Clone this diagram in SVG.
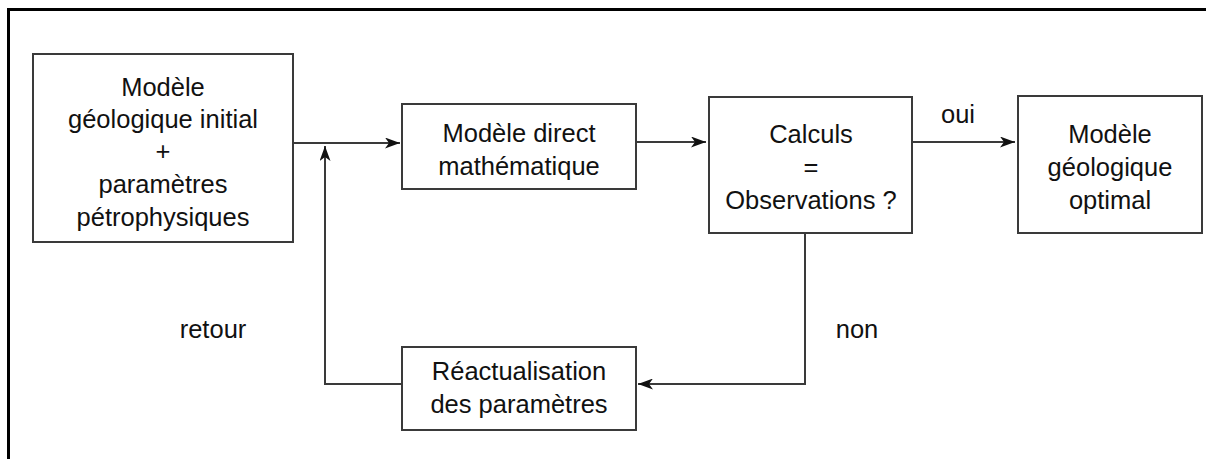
<svg xmlns="http://www.w3.org/2000/svg" width="1206" height="459" viewBox="0 0 1206 459">
  <style>
    .box { fill: #ffffff; stroke: #3a3a3a; stroke-width: 2; }
    .lbl { font-family: "Liberation Sans", Arial, Helvetica, sans-serif; font-size: 25.5px; fill: #111111; text-anchor: middle; }
    .wire { fill: none; stroke: #3a3a3a; stroke-width: 2; }
    .frame { fill: none; stroke: #000000; stroke-width: 3; }
  </style>
  <defs>
    <!-- notched filled arrowhead shared by every connector -->
    <marker id="arrow" viewBox="0 0 15 11" markerWidth="15" markerHeight="11" refX="15" refY="5.5" orient="auto" markerUnits="userSpaceOnUse">
      <path d="M0,0 L15,5.5 L0,11 L4,5.5 z" fill="#111111"/>
    </marker>
  </defs>

  <rect width="1206" height="459" fill="#ffffff"/>

  <!-- page frame: top and left edges only -->
  <path class="frame" d="M8.5,459 L8.5,9.5 L1206,9.5"/>

  <g id="connectors">
    <path class="wire" d="M293,143 L400,143" marker-end="url(#arrow)"/>
    <path class="wire" d="M402,384 L325,384 L325,146" marker-end="url(#arrow)"/>
    <path class="wire" d="M636,142 L706,142" marker-end="url(#arrow)"/>
    <path class="wire" d="M912,142 L1015,142" marker-end="url(#arrow)"/>
    <path class="wire" d="M805,233 L805,384 L638,384" marker-end="url(#arrow)"/>
  </g>

  <g id="node-initial">
    <rect class="box" x="33" y="54" width="260" height="188"/>
    <text class="lbl" x="163" y="95.5">Modèle</text>
    <text class="lbl" x="163" y="128">géologique initial</text>
    <text class="lbl" x="163" y="160">+</text>
    <text class="lbl" x="163" y="193">paramètres</text>
    <text class="lbl" x="163" y="225.5">pétrophysiques</text>
  </g>

  <g id="node-direct">
    <rect class="box" x="402" y="104" width="234" height="85"/>
    <text class="lbl" x="519" y="142">Modèle direct</text>
    <text class="lbl" x="519" y="175">mathématique</text>
  </g>

  <g id="node-test">
    <rect class="box" x="709" y="97" width="203" height="136"/>
    <text class="lbl" x="811" y="142.5">Calculs</text>
    <text class="lbl" x="811" y="175.5">=</text>
    <text class="lbl" x="811" y="208.5">Observations ?</text>
  </g>

  <g id="node-optimal">
    <rect class="box" x="1018" y="96" width="184" height="137"/>
    <text class="lbl" x="1110" y="142.5">Modèle</text>
    <text class="lbl" x="1110" y="175.5">géologique</text>
    <text class="lbl" x="1110" y="208.5">optimal</text>
  </g>

  <g id="node-update">
    <rect class="box" x="402" y="347" width="234" height="83"/>
    <text class="lbl" x="519" y="380">Réactualisation</text>
    <text class="lbl" x="519" y="413">des paramètres</text>
  </g>

  <g id="labels">
    <text class="lbl" x="958" y="123">oui</text>
    <text class="lbl" x="857" y="338">non</text>
    <text class="lbl" x="213" y="338">retour</text>
  </g>
</svg>
